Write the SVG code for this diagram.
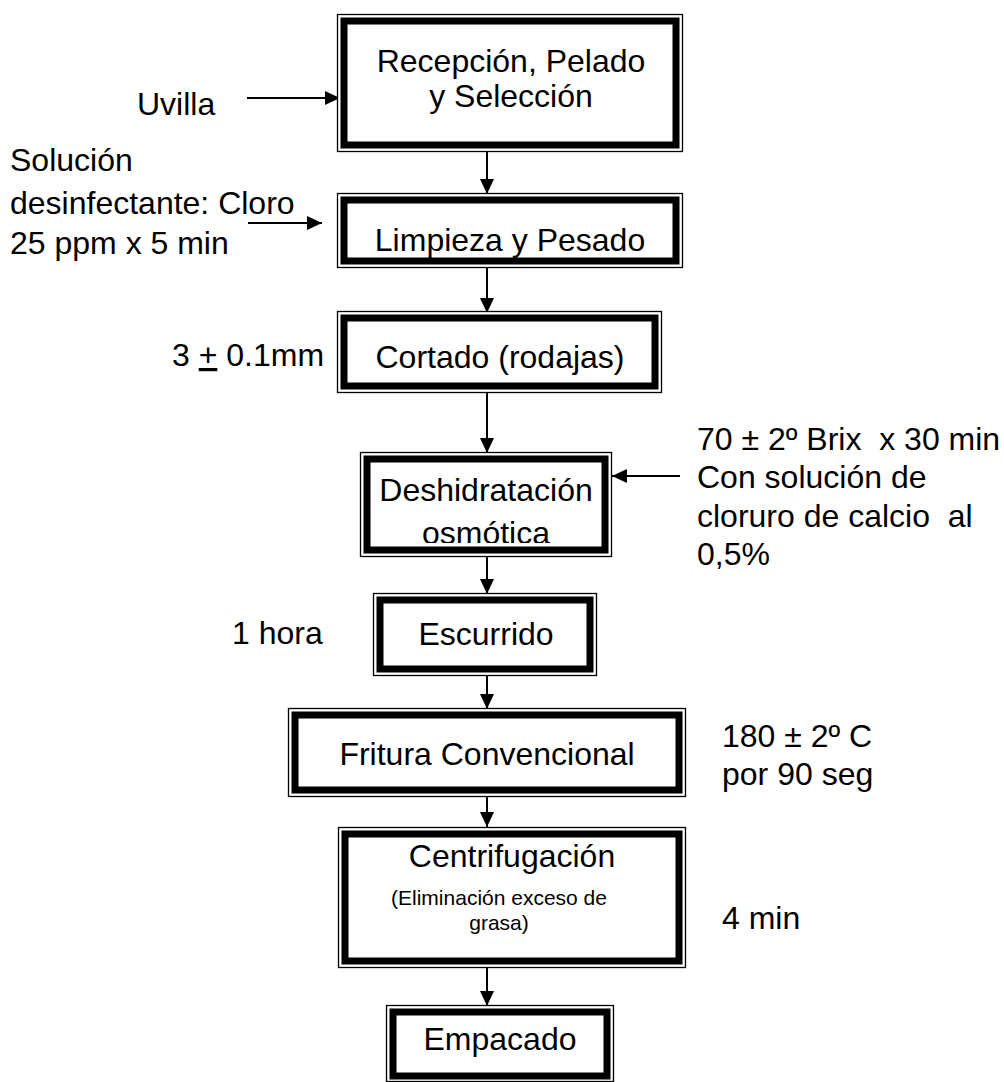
<svg xmlns="http://www.w3.org/2000/svg" width="1004" height="1082" viewBox="0 0 1004 1082">
<style>
.o{fill:#fff;stroke:#000;stroke-width:1.3}
.t{fill:none;stroke:#000;stroke-width:7}
text{font-family:"Liberation Sans",Arial,sans-serif;font-size:32px;fill:#000;white-space:pre}
.c{text-anchor:middle}
.s{font-size:21px}
.ln{stroke:#000;stroke-width:2;fill:none}
</style>
<defs>
<marker id="ah" viewBox="0 0 15 14" refX="15" refY="7" markerWidth="15" markerHeight="14" markerUnits="userSpaceOnUse" orient="auto">
<path d="M0,0 L15,7 L0,14 Z" fill="#000"/>
</marker>
<clipPath id="cl4"><rect x="366" y="458" width="239" height="85"/></clipPath>
</defs>
<rect width="1004" height="1082" fill="#fff"/>
<g id="connectors">
<line class="ln" x1="487" y1="152" x2="487" y2="194" marker-end="url(#ah)"/>
<line class="ln" x1="487" y1="268" x2="487" y2="313" marker-end="url(#ah)"/>
<line class="ln" x1="487" y1="392" x2="487" y2="453" marker-end="url(#ah)"/>
<line class="ln" x1="487" y1="557" x2="487" y2="594" marker-end="url(#ah)"/>
<line class="ln" x1="487" y1="676" x2="487" y2="709" marker-end="url(#ah)"/>
<line class="ln" x1="487" y1="797" x2="487" y2="827" marker-end="url(#ah)"/>
<line class="ln" x1="487" y1="968" x2="487" y2="1006" marker-end="url(#ah)"/>
<line class="ln" x1="247" y1="98" x2="340" y2="98" marker-end="url(#ah)"/>
<line class="ln" x1="248" y1="223" x2="322" y2="223" marker-end="url(#ah)"/>
<line class="ln" x1="680" y1="476" x2="612" y2="476" marker-end="url(#ah)"/>
</g>
<g id="n1">
<rect class="o" x="337.5" y="14.5" width="345" height="137"/>
<rect class="t" x="344" y="21" width="332" height="124"/>
<text class="c" x="511" y="72">Recepción, Pelado</text>
<text class="c" x="511" y="107">y Selección</text>
</g>
<g id="n2">
<rect class="o" x="337.5" y="193.5" width="345" height="74"/>
<rect class="t" x="344" y="200" width="332" height="61"/>
<text class="c" x="510" y="251">Limpieza y Pesado</text>
</g>
<g id="n3">
<rect class="o" x="337.5" y="311.5" width="324" height="81"/>
<rect class="t" x="344" y="318" width="311" height="68"/>
<text class="c" x="500" y="368">Cortado (rodajas)</text>
</g>
<g id="n4">
<rect class="o" x="360.5" y="452.5" width="251" height="104"/>
<text class="c" x="486" y="501" clip-path="url(#cl4)">Deshidratación</text>
<text class="c" x="486" y="544" clip-path="url(#cl4)">osmótica</text>
<rect class="t" x="367" y="459" width="238" height="91"/>
</g>
<g id="n5">
<rect class="o" x="373.5" y="593.5" width="223" height="82"/>
<rect class="t" x="380" y="600" width="210" height="69"/>
<text class="c" x="486" y="645">Escurrido</text>
</g>
<g id="n6">
<rect class="o" x="288.5" y="708.5" width="397" height="88"/>
<rect class="t" x="295" y="715" width="384" height="75"/>
<text class="c" x="487" y="765">Fritura Convencional</text>
</g>
<g id="n7">
<rect class="o" x="338.5" y="827.5" width="347" height="140"/>
<rect class="t" x="345" y="834" width="334" height="127"/>
<text class="c" x="512" y="867">Centrifugación</text>
<text class="c s" x="499" y="905">(Eliminación exceso de</text>
<text class="c s" x="499" y="930">grasa)</text>
</g>
<g id="n8">
<rect class="o" x="386.5" y="1005.5" width="227" height="76"/>
<rect class="t" x="393" y="1012" width="214" height="64"/>
<text class="c" x="500" y="1050">Empacado</text>
</g>
<g id="labels">
<text x="137" y="115">Uvilla</text>
<text x="10" y="171">Solución</text>
<text x="10" y="214">desinfectante: Cloro</text>
<text x="10" y="254">25 ppm x 5 min</text>
<text x="172" y="366">3 <tspan text-decoration="underline">+</tspan> 0.1mm</text>
<text x="697" y="450">70 ± 2º Brix  x 30 min</text>
<text x="697" y="488">Con solución de</text>
<text x="697" y="527">cloruro de calcio  al</text>
<text x="697" y="565">0,5%</text>
<text x="232" y="644">1 hora</text>
<text x="722" y="747">180 ± 2º C</text>
<text x="722" y="785">por 90 seg</text>
<text x="722" y="929">4 min</text>
</g>
</svg>
